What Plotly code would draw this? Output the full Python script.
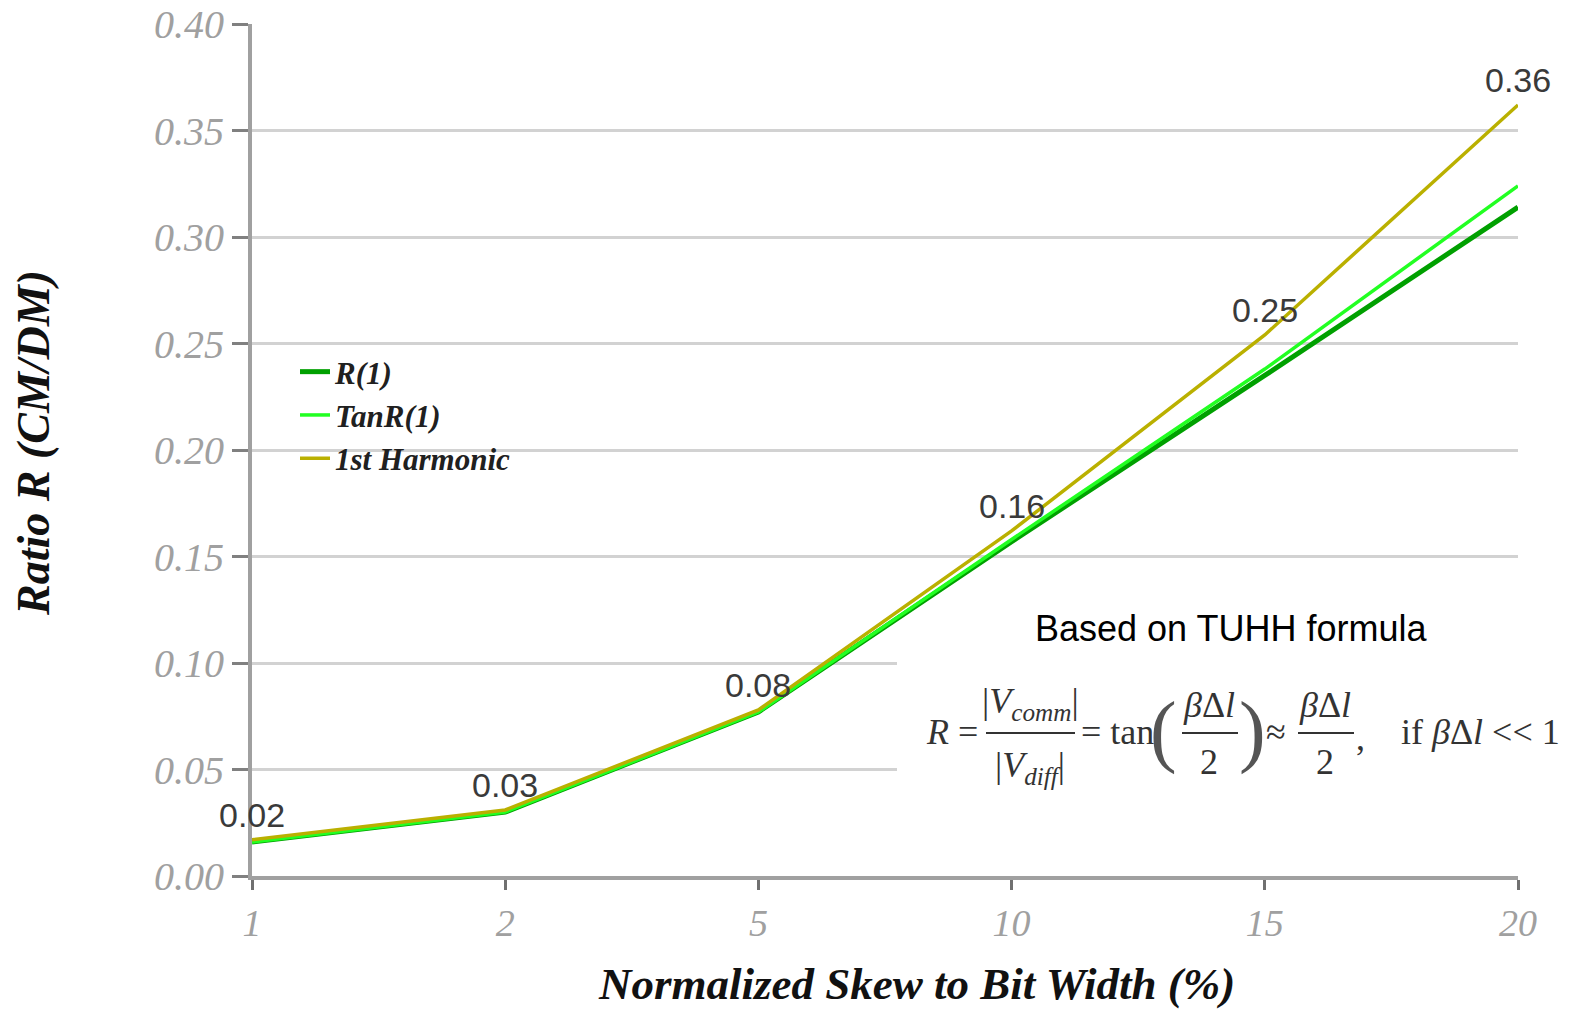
import plotly.graph_objects as go

# ---- data ----
skew_pct = ["1", "2", "5", "10", "15", "20"]
r1 = [0.016, 0.030, 0.077, 0.157, 0.235, 0.314]
tan_r1 = [0.016, 0.030, 0.077, 0.158, 0.238, 0.324]
harmonic1 = [0.017, 0.031, 0.078, 0.162, 0.254, 0.362]
y_ticks = [0.0, 0.05, 0.10, 0.15, 0.20, 0.25, 0.30, 0.35, 0.40]

W, H = 1570, 1011
L, R, T, B = 252, 52, 24, 135
PW, PH = W - L - R, H - T - B


def px(x):
    return (x - L) / PW


def py(y):
    return (H - B - y) / PH


SERIF = "Liberation Serif"
SANS = "Liberation Sans"

fig = go.Figure()
fig.add_trace(go.Scatter(x=skew_pct, y=r1, name="R(1)", mode="lines",
                         line=dict(color="#00a000", width=5)))
fig.add_trace(go.Scatter(x=skew_pct, y=tan_r1, name="TanR(1)", mode="lines",
                         line=dict(color="#22ff22", width=3.5)))
fig.add_trace(go.Scatter(x=skew_pct, y=harmonic1, name="1st Harmonic", mode="lines",
                         line=dict(color="#bab000", width=3.5)))

fig.update_layout(
    width=W, height=H,
    margin=dict(l=L, r=R, t=T, b=B),
    paper_bgcolor="white", plot_bgcolor="white",
    showlegend=True,
    legend=dict(x=px(295), y=py(345), xanchor="left", yanchor="top",
                bgcolor="rgba(0,0,0,0)", itemwidth=30, tracegroupgap=0,
                font=dict(family=SERIF, size=31, color="#202020", style="italic", weight="bold")),
    xaxis=dict(type="category", range=[0, 5], showgrid=False, zeroline=False, automargin=False,
               showline=True, linecolor="#a0a0a0", linewidth=4,
               ticks="outside", ticklen=10, tickwidth=3, tickcolor="#707070",
               tickfont=dict(family=SERIF, size=38, color="#a0a0a0", style="italic")),
    yaxis=dict(range=[0, 0.40], tickvals=y_ticks, tickformat=".2f", automargin=False,
               showgrid=True, gridcolor="#d2d2d2", gridwidth=3, zeroline=False,
               showline=True, linecolor="#a0a0a0", linewidth=4,
               ticks="outside", ticklen=16, tickwidth=3, tickcolor="#808080",
               tickfont=dict(family=SERIF, size=40, color="#a0a0a0", style="italic")),
)

# white block behind the formula (hides grid lines there; no data passes through it)
fig.add_shape(type="rect", xref="paper", yref="paper",
              x0=px(897), x1=px(1522), y0=py(812), y1=py(645),
              fillcolor="white", line=dict(width=0), layer="above")

annotations = []

# data labels for the 1st Harmonic series (category axis -> positions by index)
for i, yv in enumerate(harmonic1):
    annotations.append(dict(x=i, y=yv, xref="x", yref="y", text=f"{yv:.2f}", showarrow=False,
                            xanchor="center", yanchor="middle", yshift=25,
                            font=dict(family=SANS, size=34, color="#3a3a3a")))


def ann(text, x, y, size, family=SERIF, color="black", style="normal", weight="normal", xanchor="center", angle=0):
    annotations.append(dict(text=text, x=px(x), y=py(y), xref="paper", yref="paper",
                            showarrow=False, xanchor=xanchor, yanchor="middle", textangle=angle,
                            font=dict(family=family, size=size, color=color, style=style, weight=weight)))


# axis titles
ann("Normalized Skew to Bit Width (%)", 916, 984, 45, style="italic", weight="bold", color="#111111")
ann("Ratio R (CM/DM)", 33, 443, 46, style="italic", weight="bold", color="#111111", angle=-90)

# formula block
ann("Based on TUHH formula", 1231, 628, 36, family=SANS)
fc = "#333333"
ann("<i>R</i> =", 952, 732, 36, color=fc)
ann("|<i>V</i><sub><i>comm</i></sub>|", 1030, 703, 36, color=fc)
ann("|<i>V</i><sub><i>diff</i></sub>|", 1030, 767, 36, color=fc)
ann("= tan", 1117, 732, 36, color=fc)
ann("(", 1163, 730, 80, color="#555555")
ann("<i>β</i>Δ<i>l</i>", 1209, 705, 36, color=fc)
ann("2", 1209, 762, 36, color=fc)
ann(")", 1252, 730, 80, color="#555555")
ann("≈", 1276, 732, 36, color=fc)
ann("<i>β</i>Δ<i>l</i>", 1325, 705, 36, color=fc)
ann("2", 1325, 762, 36, color=fc)
ann(",", 1360, 738, 36, color=fc)
ann("if <i>β</i>Δ<i>l</i> << 1", 1480, 732, 36, color=fc)
fig.update_layout(annotations=annotations)

for x0, x1 in [(986, 1075), (1182, 1238), (1298, 1354)]:
    fig.add_shape(type="line", xref="paper", yref="paper",
                  x0=px(x0), x1=px(x1), y0=py(733), y1=py(733),
                  line=dict(color=fc, width=2))

fig.write_html("out.html")
